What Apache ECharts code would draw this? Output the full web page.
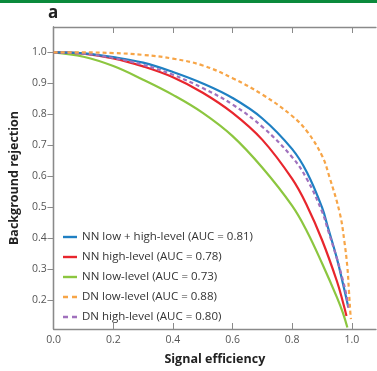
<!DOCTYPE html>
<html>
<head>
<meta charset="utf-8">
<script src="https://cdn.jsdelivr.net/npm/echarts@6/dist/echarts.min.js"></script>
<style>
  html, body { margin: 0; padding: 0; background: #fff; }
  #chart { width: 377px; height: 371px; }
</style>
</head>
<body>
<div id="chart"></div>
<script>
// signal efficiency / background rejection pairs
const nnLowHighX = [0, 0.1, 0.2, 0.3, 0.4, 0.5, 0.6, 0.7, 0.8, 0.85, 0.9, 0.92, 0.95, 0.97, 0.985, 0.988]
const nnLowHighY = [1.0, 0.997, 0.985, 0.967, 0.937, 0.900, 0.853, 0.787, 0.688, 0.612, 0.500, 0.435, 0.335, 0.255, 0.192, 0.178]

const nnHighX = [0, 0.1, 0.2, 0.3, 0.4, 0.5, 0.6, 0.7, 0.8, 0.85, 0.9, 0.95, 0.97, 0.982]
const nnHighY = [1.0, 0.996, 0.981, 0.955, 0.920, 0.870, 0.805, 0.718, 0.592, 0.505, 0.395, 0.262, 0.195, 0.150]

const nnLowX = [0, 0.1, 0.2, 0.3, 0.4, 0.5, 0.6, 0.7, 0.8, 0.85, 0.9, 0.95, 0.97, 0.985]
const nnLowY = [1.0, 0.986, 0.956, 0.912, 0.863, 0.805, 0.730, 0.628, 0.505, 0.422, 0.320, 0.210, 0.160, 0.113]

const dnLowX = [0, 0.1, 0.2, 0.3, 0.4, 0.5, 0.6, 0.7, 0.8, 0.85, 0.9, 0.925, 0.96, 0.975, 0.985, 0.99, 0.995, 0.997]
const dnLowY = [1.0, 1.0, 0.998, 0.992, 0.980, 0.958, 0.917, 0.864, 0.795, 0.745, 0.667, 0.598, 0.480, 0.390, 0.307, 0.235, 0.160, 0.140]

const dnHighX = [0, 0.1, 0.2, 0.3, 0.4, 0.5, 0.6, 0.7, 0.8, 0.85, 0.9, 0.92, 0.95, 0.97, 0.98, 0.99]
const dnHighY = [1.0, 0.996, 0.982, 0.960, 0.928, 0.885, 0.832, 0.760, 0.662, 0.590, 0.487, 0.427, 0.335, 0.265, 0.225, 0.170]

const xTicks = [0, 0.2, 0.4, 0.6, 0.8, 1.0]
const yTicks = [0.2, 0.3, 0.4, 0.5, 0.6, 0.7, 0.8, 0.9, 1.0]

function pairs(xs, ys) {
  return xs.map(function (x, i) { return [x, ys[i]] })
}

const axisColor = '#8a8a8a'
const labelColor = '#555'
// legend glyphs: one bar for solid lines, two short bars for dashed ones
const solidIcon = 'path://M0,0 L14,0 L14,2.4 L0,2.4 Z'
const dashIcon = 'path://M0,0 L5,0 L5,2.4 L0,2.4 Z M9,0 L14,0 L14,2.4 L9,2.4 Z'

let chart = echarts.init(document.getElementById('chart'))

function mkLine(name, data, color, dashed) {
  return {
    name: name,
    type: 'line',
    data: data,
    showSymbol: false,
    symbol: 'none',
    smooth: 0.4,
    lineStyle: { color: color, width: 2.2, type: dashed ? [4, 3] : 'solid' },
    itemStyle: { color: color },
    z: dashed ? 3 : 2
  }
}

chart.setOption({
  backgroundColor: '#fff',
  animation: false,
  textStyle: { fontFamily: 'Open Sans' },
  graphic: [
    { type: 'rect', shape: { x: 0, y: 0, width: 377, height: 3 }, style: { fill: '#0b8a3c' } },
    { type: 'text', left: 48, top: 5, style: { text: 'a', font: 'bold 17px "Open Sans"', fill: '#222' } }
  ],
  grid: { left: 46, top: 27, right: 1, bottom: 35 },
  legend: {
    orient: 'vertical',
    left: 63,
    top: 231,
    padding: 0,
    itemWidth: 14,
    itemHeight: 10,
    itemGap: 8,
    textStyle: { fontSize: 11.5, color: '#333', fontFamily: 'Open Sans' },
    data: [
      { name: 'NN low + high-level (AUC = 0.81)', icon: solidIcon },
      { name: 'NN high-level (AUC = 0.78)', icon: solidIcon },
      { name: 'NN low-level (AUC = 0.73)', icon: solidIcon },
      { name: 'DN low-level (AUC = 0.88)', icon: dashIcon },
      { name: 'DN high-level (AUC = 0.80)', icon: dashIcon }
    ]
  },
  xAxis: [
    {
      type: 'value', min: 0, max: 1.081, position: 'bottom',
      name: 'Signal efficiency', nameLocation: 'middle', nameGap: 24,
      nameTextStyle: { fontSize: 12.5, fontWeight: 'bold', color: '#222' },
      axisLine: { show: true, lineStyle: { color: axisColor, width: 1.3 } },
      axisTick: { show: true, inside: true, length: 6, customValues: xTicks, lineStyle: { color: axisColor } },
      axisLabel: { customValues: xTicks, margin: 6, fontSize: 10.5, color: labelColor, formatter: function (v) { return v.toFixed(1) } },
      splitLine: { show: false }
    },
    {
      type: 'value', min: 0, max: 1.081, position: 'top',
      axisLine: { show: true, lineStyle: { color: axisColor, width: 1.3 } },
      axisTick: { show: true, inside: true, length: 6, customValues: xTicks, lineStyle: { color: axisColor } },
      axisLabel: { show: false },
      splitLine: { show: false }
    }
  ],
  yAxis: [
    {
      type: 'value', min: 0.108, max: 1.082, position: 'left',
      name: 'Background rejection', nameLocation: 'middle', nameGap: 32, nameRotate: 90,
      nameTextStyle: { fontSize: 12.5, fontWeight: 'bold', color: '#222' },
      axisLine: { show: true, lineStyle: { color: axisColor, width: 1.3 } },
      axisTick: { show: true, inside: false, length: 6, customValues: yTicks, lineStyle: { color: axisColor } },
      axisLabel: { customValues: yTicks, margin: 7, fontSize: 10.5, color: labelColor, formatter: function (v) { return v.toFixed(1) } },
      splitLine: { show: false }
    },
    {
      type: 'value', min: 0.108, max: 1.082, position: 'right',
      axisLine: { show: true, lineStyle: { color: axisColor, width: 1.3 } },
      axisTick: { show: true, inside: true, length: 6, customValues: yTicks, lineStyle: { color: axisColor } },
      axisLabel: { show: false },
      splitLine: { show: false }
    }
  ],
  series: [
    mkLine('NN low-level (AUC = 0.73)', pairs(nnLowX, nnLowY), '#8cc63f', false),
    mkLine('NN high-level (AUC = 0.78)', pairs(nnHighX, nnHighY), '#e8262d', false),
    mkLine('NN low + high-level (AUC = 0.81)', pairs(nnLowHighX, nnLowHighY), '#1f80c3', false),
    mkLine('DN high-level (AUC = 0.80)', pairs(dnHighX, dnHighY), '#a071bd', true),
    mkLine('DN low-level (AUC = 0.88)', pairs(dnLowX, dnLowY), '#f7a547', true)
  ]
})
</script>
</body>
</html>
